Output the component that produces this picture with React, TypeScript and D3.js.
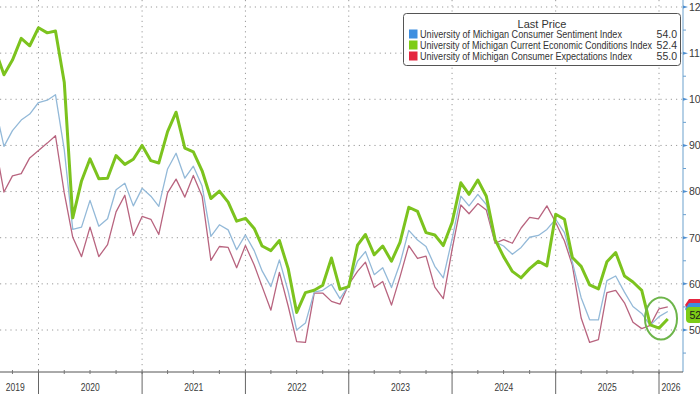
import React from "react";
import * as d3 from "d3";

// Monthly data, Jul 2019 .. Jan 2026 (plotted at month end)
const startYear = 2019;
const startMonth = 6; // July (0-based)

const sentiment = [
  98.4, 89.8, 93.2, 95.5, 96.8, 99.3,
  99.8, 101.0, 89.1, 71.8, 72.3, 78.1, 72.5, 74.1, 80.4, 81.8, 76.9, 80.7,
  79.0, 76.8, 84.9, 88.3, 82.9, 85.5, 81.2, 70.3, 72.8, 71.7, 67.4, 70.6,
  67.2, 62.8, 59.4, 65.2, 58.4, 50.0, 51.5, 58.2, 58.6, 59.9, 56.8, 59.7,
  64.9, 67.0, 62.0, 63.5, 59.2, 64.4, 71.6, 69.5, 68.1, 63.8, 61.3, 69.7,
  79.0, 76.9, 79.4, 77.2, 69.1, 68.2, 66.4, 67.9, 70.1, 70.5, 71.8, 74.0,
  71.1, 64.7, 57.0, 52.2, 52.2, 60.7, 61.7, 58.2, 55.1, 53.6, 51.0, 52.9,
  54.0,
];
const current = [
  110.7, 105.3, 108.5, 113.2, 111.6, 115.5,
  114.4, 114.8, 103.7, 74.3, 82.3, 87.1, 82.8, 82.9, 87.8, 85.9, 87.0, 90.0,
  86.7, 86.2, 93.0, 97.2, 89.4, 88.6, 84.5, 78.5, 80.1, 77.7, 73.6, 74.2,
  72.0, 68.2, 67.2, 69.4, 63.3, 53.8, 58.1, 58.6, 59.7, 65.6, 58.8, 59.4,
  68.4, 70.7, 66.3, 68.2, 64.9, 69.0, 76.6, 75.7, 71.1, 70.6, 68.3, 73.3,
  81.9, 79.4, 82.5, 79.0, 69.6, 65.9, 62.7, 61.3, 63.3, 64.9, 63.9, 75.1,
  74.0, 65.7, 63.8, 59.8, 58.9, 64.8, 66.8, 61.7, 60.4, 58.6, 51.1, 50.4,
  52.4,
];
const expectations = [
  90.3, 79.9, 83.4, 83.9, 87.3, 88.9,
  90.5, 92.1, 79.7, 70.1, 65.9, 72.3, 65.9, 68.5, 75.6, 79.2, 70.5, 74.6,
  74.0, 70.7, 79.7, 82.7, 78.8, 83.5, 79.0, 65.1, 68.1, 67.9, 63.5, 68.3,
  64.1, 59.4, 54.3, 62.5, 55.2, 47.5, 47.3, 58.0, 58.0, 56.2, 55.6, 59.9,
  62.7, 64.7, 59.2, 60.5, 55.4, 61.5, 68.3, 65.5, 66.0, 59.3, 56.8, 67.4,
  77.1, 75.2, 77.4, 76.0, 68.8, 69.6, 68.8, 72.1, 74.4, 74.1, 76.9, 73.3,
  69.3, 64.0, 52.6, 47.3, 47.9, 58.1, 58.6, 55.9, 51.7, 50.3, 51.0, 54.6,
  55.0,
];

const yTicks = [50, 60, 70, 80, 90, 100, 110, 120];
const yMinorTicks = [45, 55, 65, 75, 85, 95, 105, 115];
const years = [2019, 2020, 2021, 2022, 2023, 2024, 2025, 2026];

const legendTitle = "Last Price";
const seriesNames = [
  "University of Michigan Consumer Sentiment Index",
  "University of Michigan Current Economic Conditions Index",
  "University of Michigan Consumer Expectations Index",
];
const lastValues = ["54.0", "52.4", "55.0"];

const W = 700;
const H = 394;
const plotRight = 683;
const plotBottom = 372;

export default function App() {
  const x = d3
    .scaleTime()
    .domain([new Date(2020, 0, 1), new Date(2026, 0, 1)])
    .range([38.5, 659]);
  const y = d3.scaleLinear().domain([50, 120]).range([330, 7]);

  // month-end dates (first day of following month)
  const dates = sentiment.map(
    (_, i) => new Date(startYear, startMonth + i + 1, 1)
  );

  const line = d3
    .line<number>()
    .x((_, i) => x(dates[i]))
    .y((v) => y(v));

  const quarterTicks = d3.timeMonth
    .every(3)!
    .range(new Date(2019, 0, 1), new Date(2026, 6, 1))
    .filter((d) => x(d) > 0 && x(d) < plotRight);

  const yearBounds = years
    .map((yr) => new Date(yr, 0, 1))
    .filter((d) => x(d) > 0 && x(d) < plotRight);

  const yearLabelX = years.map((yr) => {
    const a = Math.max(x(new Date(yr, 0, 1)), -8);
    const b = Math.min(x(new Date(yr + 1, 0, 1)), plotRight);
    return (a + b) / 2;
  });

  const font = "'Liberation Sans', Arial, sans-serif";
  const gridColor = "#9a9a9a";

  const colors = {
    sentimentLine: "#93b9d8",
    currentLine: "#7cc31e",
    expectLine: "#b8647f",
    sentimentBox: "#3d8ee0",
    currentBox: "#7dcc16",
    expectBox: "#e42640",
  };

  const lastY = y(current[current.length - 1]);
  const tagTop = lastY - 12;

  return (
    <svg
      width={W}
      height={H}
      style={{ position: "absolute", left: 0, top: 0, background: "#fff" }}
      fontFamily={font}
    >
      <defs>
        <clipPath id="plot">
          <rect x={0} y={0} width={plotRight} height={plotBottom} />
        </clipPath>
        <clipPath id="page">
          <rect x={0} y={0} width={W} height={H} />
        </clipPath>
      </defs>

      {/* horizontal grid */}
      {yTicks.map((t) => (
        <line
          key={"hg" + t}
          x1={0}
          x2={plotRight}
          y1={y(t)}
          y2={y(t)}
          stroke={gridColor}
          strokeWidth={1}
          strokeDasharray="1.2,4"
        />
      ))}
      {/* vertical grid at year boundaries */}
      {yearBounds.map((d) => (
        <line
          key={"vg" + d.getFullYear()}
          x1={x(d)}
          x2={x(d)}
          y1={0}
          y2={plotBottom}
          stroke={gridColor}
          strokeWidth={1}
          strokeDasharray="1.2,4"
        />
      ))}

      {/* series */}
      <g clipPath="url(#plot)" fill="none" strokeLinejoin="round">
        <path d={line(expectations)!} stroke={colors.expectLine} strokeWidth={1.3} />
        <path d={line(sentiment)!} stroke={colors.sentimentLine} strokeWidth={1.3} />
        <path d={line(current)!} stroke={colors.currentLine} strokeWidth={3} />
      </g>

      {/* highlight ellipse */}
      <ellipse
        cx={x(dates[dates.length - 2]) + 2}
        cy={lastY - 0.5}
        rx={16}
        ry={21}
        fill="none"
        stroke="#6db54a"
        strokeWidth={2}
      />

      {/* right axis */}
      <line x1={plotRight} x2={plotRight} y1={0} y2={plotBottom} stroke="#9cc0de" strokeWidth={1.5} />
      {yMinorTicks.map((t) => (
        <line key={"ym" + t} x1={plotRight} x2={plotRight + 3} y1={y(t)} y2={y(t)} stroke="#6aa0d0" strokeWidth={1} />
      ))}
      {yTicks.map((t) => (
        <g key={"yt" + t}>
          <path
            d={`M${plotRight},${y(t) - 1.5}L${plotRight + 5},${y(t)}L${plotRight},${y(t) + 1.5}Z`}
            fill="#4f8fcf"
          />
          <text x={689} y={y(t) + 3.8} fontSize={10.5} fill="#3a3a3a" clipPath="url(#page)">
            {t}
          </text>
        </g>
      ))}

      {/* last value tags (stacked) */}
      <path
        d={`M${plotRight + 2},${tagTop - 2}L${plotRight + 6},${tagTop - 8}L${W},${tagTop - 8}L${W},${tagTop + 4}L${plotRight + 6},${tagTop + 4}Z`}
        fill={colors.expectBox}
      />
      <path
        d={`M${plotRight + 2},${tagTop + 2}L${plotRight + 6},${tagTop - 4}L${W},${tagTop - 4}L${W},${tagTop + 8}L${plotRight + 6},${tagTop + 8}Z`}
        fill={colors.sentimentBox}
      />
      <rect x={plotRight + 3} y={tagTop} width={W - plotRight} height={16} rx={4} fill={colors.currentBox} />
      <text x={689.5} y={lastY} fontSize={10.5} fill="#1a1a1a">
        {lastValues[1].slice(0, 2)}
      </text>

      {/* bottom axis */}
      <line x1={0} x2={plotRight} y1={plotBottom} y2={plotBottom} stroke="#555" strokeWidth={1} />
      {quarterTicks.map((d) => (
        <line key={"qt" + +d} x1={x(d)} x2={x(d)} y1={plotBottom - 2} y2={plotBottom + 2} stroke="#777" strokeWidth={1} />
      ))}
      {yearBounds.map((d) => (
        <line key={"yb" + +d} x1={x(d)} x2={x(d)} y1={plotBottom} y2={H} stroke="#666" strokeWidth={1} />
      ))}
      {years.map((yr, i) => (
        <text
          key={"yl" + yr}
          x={yearLabelX[i]}
          y={391}
          fontSize={10.5}
          textAnchor="middle"
          fill="#3a3a3a"
          textLength={19}
          lengthAdjust="spacingAndGlyphs"
        >
          {yr}
        </text>
      ))}

      {/* legend */}
      <g>
        <rect x={403.5} y={13.5} width={277} height={52} rx={3} fill="#fff" stroke="#555" strokeWidth={1} />
        <text x={542} y={27.5} fontSize={11} textAnchor="middle" fill="#333">
          {legendTitle}
        </text>
        {seriesNames.map((name, i) => {
          const cy = 34 + i * 11;
          const boxColor = [colors.sentimentBox, colors.currentBox, colors.expectBox][i];
          const lens = [202, 232, 212];
          return (
            <g key={name}>
              <rect x={409} y={cy - 4.5} width={8.5} height={9} fill={boxColor} />
              <text
                x={420}
                y={cy + 4}
                fontSize={10.5}
                fill="#333"
                textLength={lens[i]}
                lengthAdjust="spacingAndGlyphs"
              >
                {name}
              </text>
              <text x={677} y={cy + 4} fontSize={10.5} textAnchor="end" fill="#333">
                {lastValues[i]}
              </text>
            </g>
          );
        })}
      </g>
    </svg>
  );
}
